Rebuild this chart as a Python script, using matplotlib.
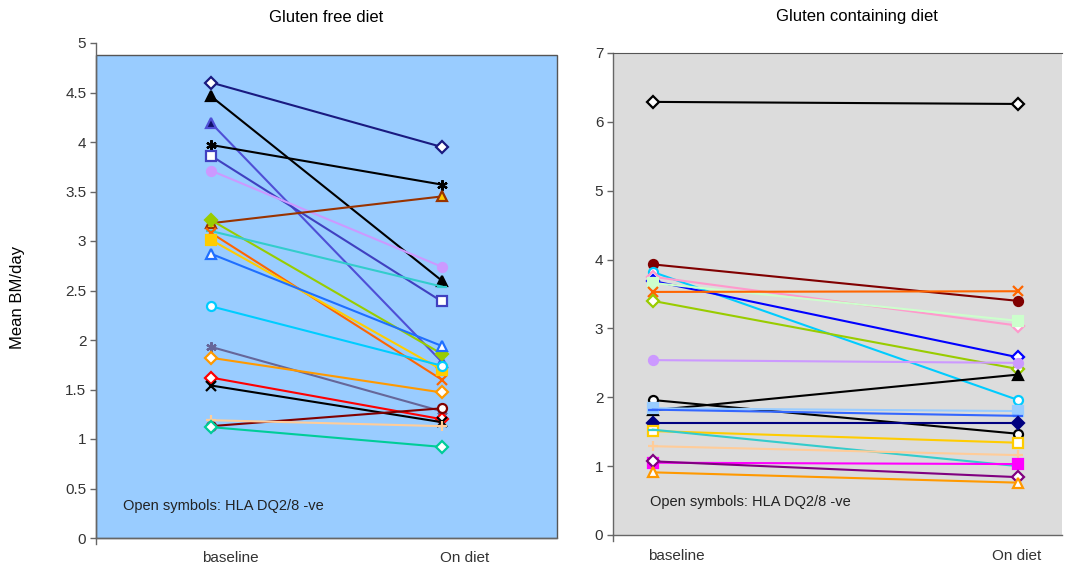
import matplotlib
matplotlib.use("Agg")
import matplotlib.pyplot as plt
from matplotlib.patches import Rectangle
from matplotlib.ticker import FuncFormatter

plt.rcParams['font.family'] = ['Liberation Sans', 'DejaVu Sans']

# ---------------- data ----------------
categories = ["baseline", "On diet"]

left_title = "Gluten free diet"
right_title = "Gluten containing diet"
ylabel = "Mean BM/day"
note = "Open symbols: HLA DQ2/8 -ve"

left_baseline = [4.60, 4.46, 4.19, 3.97, 3.86, 3.71, 3.18, 3.21, 3.10, 3.08,
                 3.01, 2.87, 2.34, 1.93, 1.82, 1.62, 1.54, 1.13, 1.19, 1.12]
left_ondiet = [3.95, 2.60, 1.78, 3.57, 2.39, 2.74, 3.45, 1.86, 2.54, 1.60,
               1.70, 1.94, 1.74, 1.28, 1.47, 1.20, 1.17, 1.31, 1.13, 0.92]

right_baseline = [6.29, 3.93, 3.82, 3.75, 3.69, 3.66, 3.53, 3.40, 2.54, 1.81,
                  1.96, 1.84, 1.82, 1.62, 1.51, 1.53, 1.29, 1.05, 1.07, 0.91]
right_ondiet = [6.26, 3.40, 1.96, 3.04, 2.58, 3.11, 3.54, 2.41, 2.50, 2.33,
                1.47, 1.80, 1.73, 1.62, 1.34, 1.00, 1.16, 1.03, 0.84, 0.76]

left_yticks = [0, 0.5, 1, 1.5, 2, 2.5, 3, 3.5, 4, 4.5, 5]
right_yticks = [0, 1, 2, 3, 4, 5, 6, 7]

# ---------------- styles ----------------
AST = (6, 2, 0)
W = 'white'
left_styles = [
    ('#1a1a80', 'D', W), ('black', '^', 'black'), ('#4f4fd6', '^', '#10106a'),
    ('black', AST, 'black'), ('#4040c0', 's', W), ('#cc99ff', 'o', '#cc99ff'),
    ('#993300', '^', '#ffcc00'), ('#99cc00', 'D', '#99cc00'), ('#33cccc', '_', '#33cccc'),
    ('#ff6600', 'x', '#ff6600'), ('#ffcc00', 's', '#ffcc00'), ('#1f6fff', '^', W),
    ('#00ccff', 'o', W), ('#666699', AST, '#666699'), ('#ff9900', 'D', W),
    ('#ff0000', 'D', W), ('black', 'x', 'black'), ('#800000', 'o', W),
    ('#ffcc99', '+', '#ffcc99'), ('#00cc99', 'D', W),
]
right_styles = [
    ('black', 'D', W), ('#800000', 'o', '#800000'), ('#00ccff', 'o', W),
    ('#ff99cc', 'D', W), ('#0000ff', 'D', W), ('#ccffcc', 's', '#ccffcc'),
    ('#ff6600', 'x', '#ff6600'), ('#99cc00', 'D', W), ('#cc99ff', 'o', '#cc99ff'),
    ('black', '^', 'black'), ('black', 'o', W), ('#99ccff', 's', '#99ccff'),
    ('#3366ff', '_', '#3366ff'), ('#000080', 'D', '#000080'), ('#ffcc00', 's', W),
    ('#33cccc', '_', '#33cccc'), ('#ffcc99', '+', '#ffcc99'), ('#ff00ff', 's', '#ff00ff'),
    ('#800080', 'D', W), ('#ff9900', '^', W),
]

TXT = '#333333'
AXC = '#666666'


def msize(m):
    if m == 'D':
        return 6.0
    if m in ('x', '+', AST):
        return 7.5
    if m == '_':
        return 7
    return 6.5


def draw(ax, base, ond, styles):
    x = [0, 1]
    for b, o, (c, m, fc) in zip(base, ond, styles):
        ax.plot(x, [b, o], color=c, lw=1.5, marker=m, ms=msize(m),
                mfc=fc, mec=c, mew=1.6, clip_on=False, zorder=3)


def style_axis(ax, yticks):
    ax.set_yticks(yticks)
    ax.yaxis.set_major_formatter(FuncFormatter(lambda v, p: f"{v:g}"))
    ax.tick_params(axis='y', direction='out', length=4, width=1, colors=AXC,
                   labelcolor=TXT, labelsize=11, pad=3)
    ax.set_xticks([])
    for s in ('left', 'bottom'):
        ax.spines[s].set_color(AXC)
        ax.spines[s].set_linewidth(1)


fig = plt.figure(figsize=(10.66, 5.71), dpi=100)

# ---- left panel ----
axL = fig.add_axes([96 / 1066, 1 - 538 / 571, (557 - 96) / 1066, (538 - 43) / 571])
axL.set_facecolor('none')
axL.set_xlim(-0.5, 1.5)
axL.set_ylim(0, 5)
axL.add_patch(Rectangle((-0.5, 0), 2.0, 4.88, facecolor='#99ccff',
                        edgecolor='#555555', lw=1, zorder=0, clip_on=False))
axL.spines['top'].set_visible(False)
axL.spines['right'].set_visible(False)
style_axis(axL, left_yticks)
draw(axL, left_baseline, left_ondiet, left_styles)
axL.plot([-0.5, -0.5], [0, -0.06], color=AXC, lw=1, clip_on=False)

# ---- right panel ----
axR = fig.add_axes([613 / 1066, 1 - 535 / 571, (1062 - 613) / 1066, (535 - 53) / 571])
axR.set_facecolor('#dcdcdc')
axR.set_xlim(-0.109, 1.12)
axR.set_ylim(0, 7)
axR.spines['right'].set_visible(False)
axR.spines['top'].set_color('#555555')
style_axis(axR, right_yticks)
draw(axR, right_baseline, right_ondiet, right_styles)
axR.plot([-0.109, -0.109], [0, -0.08], color=AXC, lw=1, clip_on=False)

# ---- texts ----
fig.text(326 / 1066, 1 - 17 / 571, left_title, ha='center', va='center',
         fontsize=12, color='black')
fig.text(857 / 1066, 1 - 17 / 571, right_title, ha='center', va='center',
         fontsize=12, color='black')
fig.text(18 / 1066, 1 - 297 / 571, ylabel, ha='center', va='center',
         rotation=90, fontsize=12, color='black')

for xpx, ypx, lab in [(230, 558, categories[0]), (465, 558, categories[1]),
                      (676, 556, categories[0]), (1017, 556, categories[1])]:
    fig.text(xpx / 1066, 1 - ypx / 571, lab, ha='center', va='center',
             fontsize=11, color=TXT)

fig.text(123 / 1066, 1 - 506 / 571, note, ha='left', va='center',
         fontsize=10.5, color='#222222')
fig.text(650 / 1066, 1 - 502 / 571, note, ha='left', va='center',
         fontsize=10.5, color='#222222')

fig.savefig('out.png', dpi=100)
